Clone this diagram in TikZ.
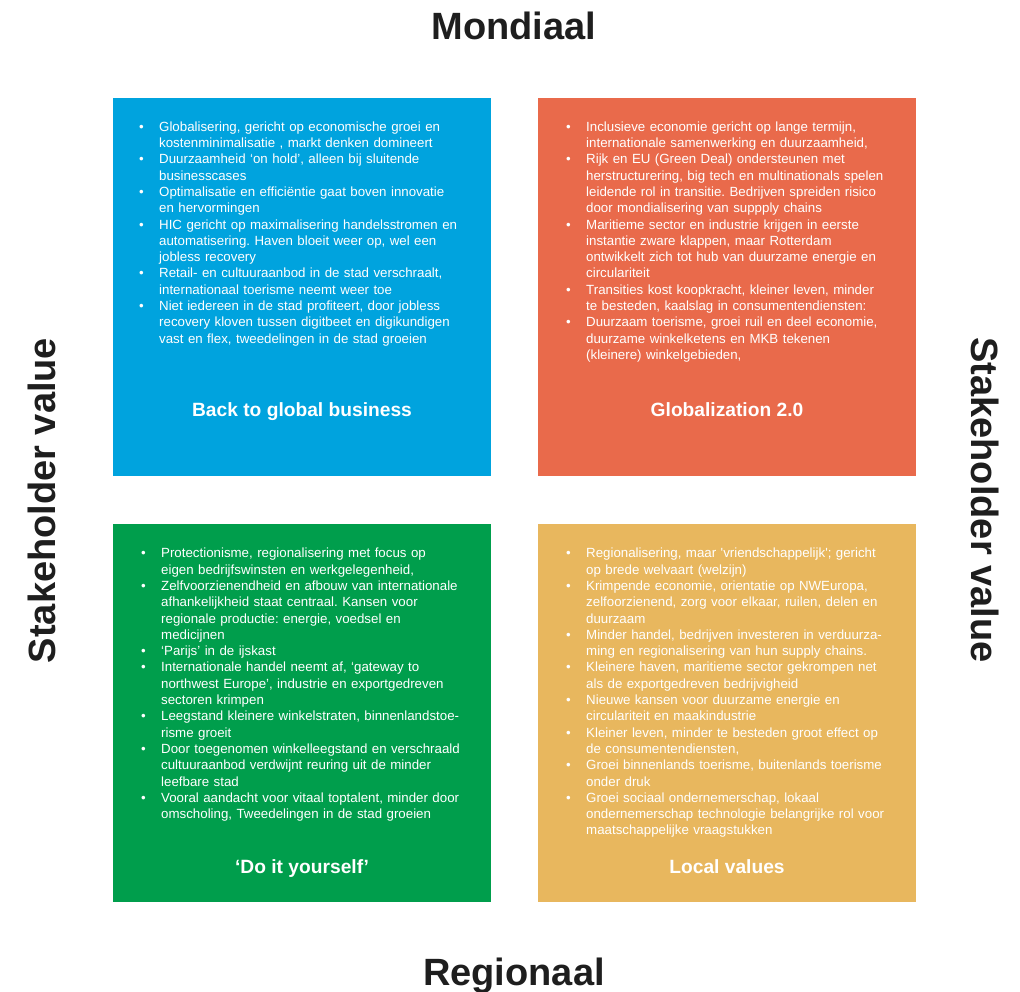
\documentclass[tikz,border=0pt]{standalone}
\usepackage{fontspec}
\setmainfont{Liberation Sans}[Ligatures=TeXOff]
\definecolor{qblue}{RGB}{0,163,222}
\definecolor{qorange}{RGB}{233,106,75}
\definecolor{qgreen}{RGB}{0,158,76}
\definecolor{qyellow}{RGB}{232,183,94}
\definecolor{axisgray}{RGB}{30,30,30}
% one bullet item with a hanging indent; lines are broken by hand with \newline
\newcommand\bitem{\par\noindent\hangindent=20pt\hangafter=1\makebox[20pt][l]{\textbullet}}
\tikzset{
  quad/.style={draw=none, minimum width=378pt, minimum height=378pt, inner sep=0pt},
  bullets/.style={anchor=base west, inner sep=0pt, text width=400pt, align=left,
    text=white, font=\fontsize{13.3}{16.3}\selectfont\frenchspacing},
  quadtitle/.style={anchor=base, inner sep=0pt, text=white,
    font=\fontsize{19.2}{22}\selectfont\bfseries},
  axislabel/.style={inner sep=0pt, text=axisgray,
    font=\fontsize{38}{44}\selectfont\bfseries},
}
\begin{document}
\begin{tikzpicture}[x=1pt, y=-1pt]
\useasboundingbox (0,0) rectangle (1020,992);

% axis labels
\node[axislabel, anchor=base] (mondiaal) at (514,39.5) {Mondiaal};
\node[axislabel, anchor=base] (regionaal) at (514,985) {Regionaal};
\node[axislabel, rotate=90] (svleft) at (41.5,500.5) {Stakeholder value};
\node[axislabel, rotate=-90] (svright) at (985,500) {Stakeholder value};

% quadrants
\node[quad, fill=qblue] (qtl) at (302,287) {};
\node[quad, fill=qorange] (qtr) at (727,287) {};
\node[quad, fill=qgreen] (qbl) at (302,713) {};
\node[quad, fill=qyellow] (qbr) at (727,713) {};

% top left: Back to global business
\node[bullets] (ttl) at (139,115) {%
\bitem Globalisering, gericht op economische groei en\newline kostenminimalisatie , markt denken domineert
\bitem Duurzaamheid ‘on hold’, alleen bij sluitende\newline businesscases
\bitem Optimalisatie en efficiëntie gaat boven innovatie\newline en hervormingen
\bitem HIC gericht op maximalisering handelsstromen en\newline automatisering. Haven bloeit weer op, wel een\newline jobless recovery
\bitem Retail- en cultuuraanbod in de stad verschraalt,\newline internationaal toerisme neemt weer toe
\bitem Niet iedereen in de stad profiteert, door jobless\newline recovery kloven tussen digitbeet en digikundigen\newline vast en flex, tweedelingen in de stad groeien\par};
\node[quadtitle] (htl) at (302,416) {Back to global business};

% top right: Globalization 2.0
\node[bullets] (ttr) at (566,115) {%
\bitem Inclusieve economie gericht op lange termijn,\newline internationale samenwerking en duurzaamheid,
\bitem Rijk en EU (Green Deal) ondersteunen met\newline herstructurering, big tech en multinationals spelen\newline leidende rol in transitie. Bedrijven spreiden risico\newline door mondialisering van suppply chains
\bitem Maritieme sector en industrie krijgen in eerste\newline instantie zware klappen, maar Rotterdam\newline ontwikkelt zich tot hub van duurzame energie en\newline circulariteit
\bitem Transities kost koopkracht, kleiner leven, minder\newline te besteden, kaalslag in consumentendiensten:
\bitem Duurzaam toerisme, groei ruil en deel economie,\newline duurzame winkelketens en MKB tekenen\newline (kleinere) winkelgebieden,\par};
\node[quadtitle] (htr) at (727,416) {Globalization 2.0};

% bottom left: Do it yourself
\node[bullets] (tbl) at (141,541.5) {%
\bitem Protectionisme, regionalisering met focus op\newline eigen bedrijfswinsten en werkgelegenheid,
\bitem Zelfvoorzienendheid en afbouw van internationale\newline afhankelijkheid staat centraal. Kansen voor\newline regionale productie: energie, voedsel en\newline medicijnen
\bitem ‘Parijs’ in de ijskast
\bitem Internationale handel neemt af, ‘gateway to\newline northwest Europe’, industrie en exportgedreven\newline sectoren krimpen
\bitem Leegstand kleinere winkelstraten, binnenlandstoe-\newline risme groeit
\bitem Door toegenomen winkelleegstand en verschraald\newline cultuuraanbod verdwijnt reuring uit de minder\newline leefbare stad
\bitem Vooral aandacht voor vitaal toptalent, minder door\newline omscholing, Tweedelingen in de stad groeien\par};
\node[quadtitle] (hbl) at (302,873) {‘Do it yourself’};

% bottom right: Local values
\node[bullets] (tbr) at (566,541.5) {%
\bitem Regionalisering, maar 'vriendschappelijk'; gericht\newline op brede welvaart (welzijn)
\bitem Krimpende economie, orientatie op NWEuropa,\newline zelfoorzienend, zorg voor elkaar, ruilen, delen en\newline duurzaam
\bitem Minder handel, bedrijven investeren in verduurza-\newline ming en regionalisering van hun supply chains.
\bitem Kleinere haven, maritieme sector gekrompen net\newline als de exportgedreven bedrijvigheid
\bitem Nieuwe kansen voor duurzame energie en\newline circulariteit en maakindustrie
\bitem Kleiner leven, minder te besteden groot effect op\newline de consumentendiensten,
\bitem Groei binnenlands toerisme, buitenlands toerisme\newline onder druk
\bitem Groei sociaal ondernemerschap, lokaal\newline ondernemerschap technologie belangrijke rol voor\newline maatschappelijke vraagstukken\par};
\node[quadtitle] (hbr) at (727,873) {Local values};
\end{tikzpicture}
\end{document}
